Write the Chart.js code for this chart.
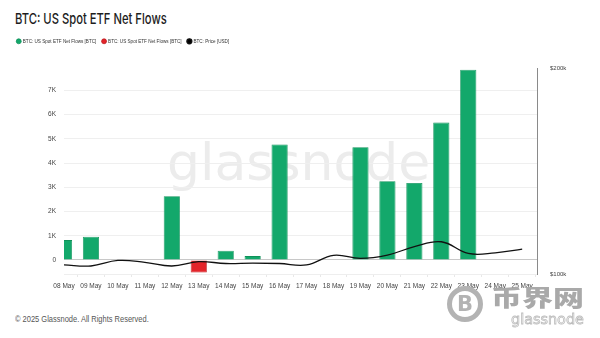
<!DOCTYPE html>
<html>
<head>
<meta charset="utf-8">
<script src="https://cdn.jsdelivr.net/npm/chart.js@4.4.1/dist/chart.umd.min.js"></script>
<style>
  html, body { margin: 0; padding: 0; background: #fff; }
  #wrap { position: relative; width: 600px; height: 338px; overflow: hidden;
          font-family: 'Liberation Sans', Arial, sans-serif; }
  #chart { position: absolute; left: 0; top: 0; z-index: 2; }
  .txt { position: absolute; white-space: nowrap; transform-origin: 0 0; }
  #title { left: 15px; top: 10px; font: 500 15px 'Inter', sans-serif; color: #1d1d1d; line-height: 18px; }
  #footer { left: 15px; top: 313px; font-size: 9.5px; color: #555; line-height: 12px; }
  #wm { left: 167px; top: 136px; font: 52px 'DejaVu Sans', sans-serif; color: #ececec; line-height: 52px; z-index: 1; }
  #coin { position: absolute; left: 447px; top: 286px; width: 26px; height: 26px; border: 5px solid #b3b3b3;
          border-radius: 50%; z-index: 3; color: #b3b3b3; font: bold 21px 'DejaVu Sans', sans-serif;
          text-align: center; line-height: 26px; }
  #cn { left: 491px; top: 284px; font: 900 31px 'Noto Sans CJK SC', sans-serif; color: #a9a9a9;
        line-height: 34px; z-index: 3; }
  #gn { left: 511px; top: 310px; font: 14px 'DejaVu Sans', sans-serif; color: #fff;
        -webkit-text-stroke: 0.8px #bdbdbd; line-height: 18px; z-index: 3; }
</style>
</head>
<body>
<div id="wrap">
  <div id="wm" class="txt">glassnode</div>
  <canvas id="chart" width="600" height="338"></canvas>
  <div id="title" class="txt">BTC: US Spot ETF Net Flows</div>
  <div id="footer" class="txt">© 2025 Glassnode. All Rights Reserved.</div>
  <div id="coin">B</div>
  <div id="cn" class="txt">币界网</div>
  <div id="gn" class="txt">glassnode</div>
</div>
<script>
// Daily US spot ETF net flows (BTC) and BTC price (USD), 08–25 May 2025
const dates = ['08 May', '09 May', '10 May', '11 May', '12 May', '13 May', '14 May', '15 May', '16 May',
               '17 May', '18 May', '19 May', '20 May', '21 May', '22 May', '23 May', '24 May', '25 May'];
const netFlows = [820, 960, 0, 0, 2630, -520, 380, 160, 4770, 0, 0, 4650, 3250, 3180, 5670, 7850, 0, 0];
const btcPrice = [104400, 103900, 106600, 105700, 103900, 106000, 105100, 105300, 105100,
                  104400, 109100, 107600, 109200, 113300, 115700, 110000, 110300, 112100];
const flowTicks = [0, 1000, 2000, 3000, 4000, 5000, 6000, 7000];
const priceTicks = [100000, 200000];

const GREEN = '#13a86b';
const RED = '#e3242a';
const FONT = "'Liberation Sans', Arial, sans-serif";

// squeeze title/footer to the narrow glassnode type width
function fitWidth(id, w) {
  const el = document.getElementById(id);
  el.style.transform = `scaleX(${w / el.offsetWidth})`;
}
fitWidth('title', 152);
fitWidth('footer', 134);
fitWidth('gn', 73);
document.getElementById('cn').style.transform = 'scaleY(0.72)';

const pts = arr => arr.map((v, i) => ({ x: i, y: v }));

// leave a gap between the legend row and the plot
const legendGap = {
  id: 'legendGap',
  afterInit(chart) {
    const fit = chart.legend.fit;
    chart.legend.fit = function () {
      fit.call(this);
      this.height += 15;
    };
  },
};

new Chart(document.getElementById('chart'), {
  type: 'bar',
  data: {
    datasets: [
      {
        label: 'BTC: US Spot ETF Net Flows [BTC]',
        data: pts(netFlows.map(v => (v >= 0 ? v : null))),
        backgroundColor: GREEN,
        borderColor: '#0f9159',
        borderWidth: 0.8,
        grouped: false,
        barPercentage: 0.6,
        categoryPercentage: 1,
        clip: 0,
        yAxisID: 'y',
      },
      {
        label: 'BTC: US Spot ETF Net Flows [BTC]',
        data: pts(netFlows.map(v => (v < 0 ? v : null))),
        backgroundColor: RED,
        borderColor: '#bb1c21',
        borderWidth: 0.8,
        grouped: false,
        barPercentage: 0.6,
        categoryPercentage: 1,
        clip: 0,
        yAxisID: 'y',
      },
      {
        type: 'line',
        label: 'BTC: Price [USD]',
        data: pts(btcPrice),
        borderColor: '#111',
        backgroundColor: '#000',
        borderWidth: 1.3,
        tension: 0.4,
        pointRadius: 0,
        yAxisID: 'y2',
        order: -1,
      },
    ],
  },
  plugins: [legendGap],
  options: {
    responsive: false,
    animation: false,
    layout: { padding: { left: 11, right: 0, top: 33, bottom: 42 } },
    plugins: {
      tooltip: { enabled: false },
      legend: {
        position: 'top',
        align: 'start',
        labels: {
          usePointStyle: true,
          pointStyle: 'circle',
          boxWidth: 3.5,
          boxHeight: 3.5,
          padding: 6,
          color: '#333',
          font: { size: 4.6, family: FONT },
          sort: (a, b) => a.datasetIndex - b.datasetIndex,
        },
      },
    },
    scales: {
      x: {
        type: 'linear',
        offset: false,
        min: 0,
        max: 17.55,
        afterBuildTicks: s => { s.ticks = dates.map((d, i) => ({ value: i })); },
        afterFit: s => { s.height = 22; },
        ticks: {
          callback: v => dates[v],
          autoSkip: false,
          maxRotation: 0,
          color: '#444',
          padding: 5,
          font: { size: 6.5, family: FONT },
        },
        grid: { drawOnChartArea: false, color: '#e8e8e8', tickLength: 3 },
        border: { display: true, color: '#eeeeee' },
      },
      y: {
        min: -580,
        max: 7900,
        afterBuildTicks: s => { s.ticks = flowTicks.map(v => ({ value: v })); },
        afterFit: s => { s.width = 53; },
        ticks: {
          callback: v => (v === 0 ? '0' : v / 1000 + 'K'),
          color: '#444',
          padding: 8,
          font: { size: 6.5, family: FONT },
        },
        grid: {
          color: c => (c.tick.value === 0 ? '#c8c8c8' : '#efefef'),
          drawTicks: false,
        },
        border: { display: false },
      },
      y2: {
        position: 'right',
        min: 100000,
        max: 200000,
        afterBuildTicks: s => { s.ticks = priceTicks.map(v => ({ value: v })); },
        afterFit: s => { s.width = 63; },
        ticks: {
          callback: v => '$' + v / 1000 + 'k',
          color: '#444',
          padding: 5,
          font: { size: 6, family: FONT },
        },
        grid: { display: false },
        border: { display: true, color: '#8a8a8a', width: 1 },
      },
    },
  },
});
</script>
</body>
</html>
